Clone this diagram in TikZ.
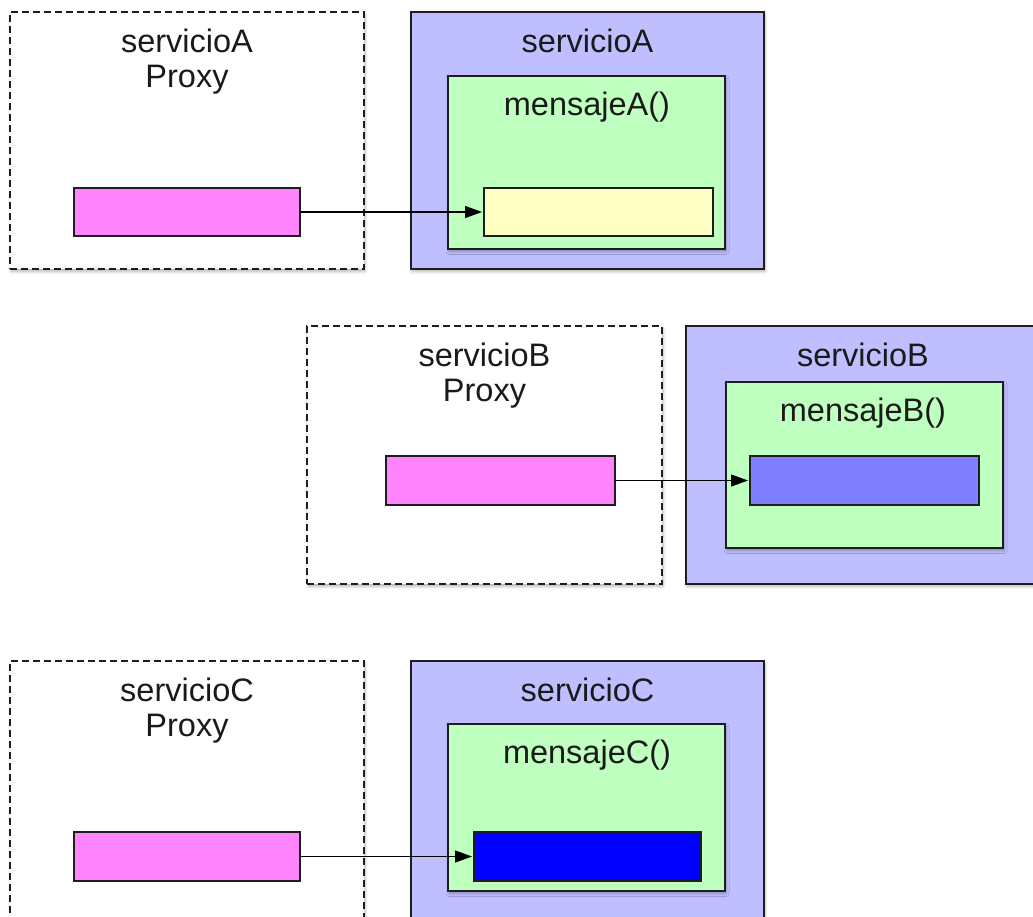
\documentclass[tikz,border=0pt]{standalone}
\usepackage{fontspec}
\setmainfont{Liberation Sans}
\usetikzlibrary{arrows.meta,shadows.blur}

\definecolor{svcfill}{HTML}{BFBFFF}
\definecolor{msgfill}{HTML}{BFFFBF}
\definecolor{pinkfill}{HTML}{FF85FF}
\definecolor{yelfill}{HTML}{FFFFC4}
\definecolor{midblue}{HTML}{8080FF}
\definecolor{pureblue}{HTML}{0000FF}
\definecolor{edge}{HTML}{1E1E1E}
\definecolor{ink}{HTML}{1A1A1A}

\tikzset{
  box/.style={rectangle, draw=edge, line width=1.6pt, inner sep=0pt, outer sep=0pt, anchor=north west},
  softshadow/.style={blur shadow={shadow xshift=1pt, shadow yshift=-2.5pt, shadow blur radius=3pt, shadow opacity=30}},
  proxybox/.style={box, fill=white, dash pattern=on 7pt off 4pt, softshadow},
  svcbox/.style={box, fill=svcfill, softshadow},
  msgbox/.style={box, fill=msgfill, softshadow},
  callbox/.style={box, line width=1.4pt, fill=pinkfill},
  bodybox/.style={box, line width=1.4pt},
  lbl/.style={inner sep=0pt, outer sep=0pt, text=ink, font=\fontsize{32.5pt}{35pt}\selectfont},
  conn/.style={draw=black, line width=1.3pt, -{Triangle[length=17pt,width=12pt]}, shorten >=2pt}
}

\begin{document}
\begin{tikzpicture}[x=1pt,y=-1pt]
  \useasboundingbox (0,0) rectangle (1033,916);

  % --- servicio A ---
  \node[proxybox, minimum width=354pt, minimum height=257pt] (proxyA) at (10,12) {};
  \node[svcbox,   minimum width=353pt, minimum height=257pt] (svcA)   at (411,12) {};
  \node[msgbox,   minimum width=277pt, minimum height=173pt] (msgA)   at (448,76) {};
  \node[bodybox, fill=yelfill, minimum width=229pt, minimum height=48pt] (bodyA) at (484,188) {};
  \node[callbox, minimum width=226pt, minimum height=48pt] (callA) at (74,188) {};
  \node[lbl, align=center, anchor=north] (proxyAlbl) at (187,28.7) {servicioA\\Proxy};
  \node[lbl, anchor=base] (svcAlbl) at (587.5,52) {servicioA};
  \node[lbl, anchor=base] (msgAlbl) at (587,115) {mensajeA()};
  \draw[conn] (callA.east) -- (bodyA.west);

  % --- servicio B ---
  \node[proxybox, minimum width=355pt, minimum height=258pt] (proxyB) at (307,326) {};
  \node[svcbox,   minimum width=354pt, minimum height=258pt] (svcB)   at (686,326) {};
  \node[msgbox,   minimum width=277pt, minimum height=166pt] (msgB)   at (726,382) {};
  \node[bodybox, fill=midblue, minimum width=229pt, minimum height=49pt] (bodyB) at (750,456) {};
  \node[callbox, minimum width=229pt, minimum height=49pt] (callB) at (386,456) {};
  \node[lbl, align=center, anchor=north] (proxyBlbl) at (484.5,342.7) {servicioB\\Proxy};
  \node[lbl, anchor=base] (svcBlbl) at (863,366) {servicioB};
  \node[lbl, anchor=base] (msgBlbl) at (863,421) {mensajeB()};
  \draw[conn] (callB.east) -- (bodyB.west);

  % --- servicio C ---
  \node[proxybox, minimum width=354pt, minimum height=257pt] (proxyC) at (10,661) {};
  \node[svcbox,   minimum width=353pt, minimum height=257pt] (svcC)   at (411,661) {};
  \node[msgbox,   minimum width=277pt, minimum height=167pt] (msgC)   at (448,724) {};
  \node[bodybox, fill=pureblue, minimum width=227pt, minimum height=49pt] (bodyC) at (474,832) {};
  \node[callbox, minimum width=226pt, minimum height=49pt] (callC) at (74,832) {};
  \node[lbl, align=center, anchor=north] (proxyClbl) at (187,677.7) {servicioC\\Proxy};
  \node[lbl, anchor=base] (svcClbl) at (587.5,701) {servicioC};
  \node[lbl, anchor=base] (msgClbl) at (587,763) {mensajeC()};
  \draw[conn] (callC.east) -- (bodyC.west);
\end{tikzpicture}
\end{document}
